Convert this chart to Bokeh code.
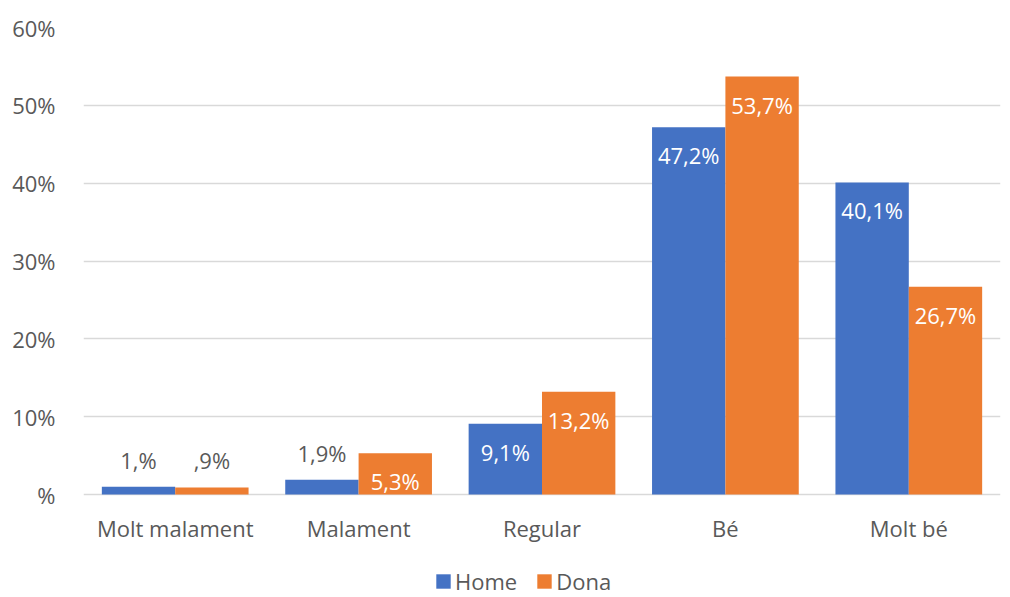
from bokeh.plotting import figure
from bokeh.models import ColumnDataSource, FactorRange, Legend, LegendItem, Range1d
from bokeh.transform import dodge
from bokeh.core.properties import value
from bokeh.embed import file_html
from bokeh.resources import INLINE

categories = ["Molt malament", "Malament", "Regular", "Bé", "Molt bé"]
home = [1.0, 1.9, 9.1, 47.2, 40.1]
dona = [0.9, 5.3, 13.2, 53.7, 26.7]
home_labels = ["1,%", "1,9%", "9,1%", "47,2%", "40,1%"]
dona_labels = [",9%", "5,3%", "13,2%", "53,7%", "26,7%"]
y_ticks = [0, 10, 20, 30, 40, 50, 60]
y_tick_labels = ["%", "10%", "20%", "30%", "40%", "50%", "60%"]
series_names = ["Home", "Dona"]

BLUE = "#4472C4"
ORANGE = "#ED7D31"
GREY = "#595959"
FONT = "Open Sans"

W, H = 1010, 597
LEFT, RIGHT, TOP, BASE = 83, 10, 27, 494   # frame edges; BASE = pixel row of 0%
y_max = y_ticks[-1]
px_per_unit = (BASE - TOP) / y_max
y_min = -(H - BASE) / px_per_unit          # extend frame to the bottom so legend/labels aren't clipped

p = figure(x_range=FactorRange(*categories), y_range=Range1d(y_min, y_max),
           width=W, height=H, output_backend="svg", toolbar_location=None,
           x_axis_location=None,
           min_border_left=LEFT, min_border_right=RIGHT, min_border_top=TOP, min_border_bottom=0)
p.outline_line_color = None
p.background_fill_color = "white"
p.x_range.range_padding = 0
p.x_range.group_padding = 0

renderers = []
for vals, labels, color, off in [(home, home_labels, BLUE, -0.2), (dona, dona_labels, ORANGE, 0.2)]:
    inside = [v >= 4 for v in vals]
    src = ColumnDataSource(dict(
        cat=categories, val=vals, lab=labels,
        yoff=[28 if i else -27 for i in inside],
        tcol=["white" if i else GREY for i in inside],
    ))
    r = p.vbar(x=dodge("cat", off, range=p.x_range), top="val", width=0.4, source=src,
               fill_color=color, line_color=None)
    renderers.append(r)
    p.text(x=dodge("cat", off, range=p.x_range), y="val", text="lab", source=src,
           text_align="center", text_baseline="middle", y_offset="yoff",
           text_color="tcol", text_font=value(FONT), text_font_size="22px")

# category labels (drawn as text under the 0% line)
cat_src = ColumnDataSource(dict(cat=categories, y=[0] * len(categories)))
p.text(x="cat", y="y", text="cat", source=cat_src, text_align="center", text_baseline="middle",
       y_offset=33, text_color=GREY, text_font=value(FONT), text_font_size="22px")

p.xgrid.grid_line_color = None
p.ygrid.grid_line_color = "#d9d9d9"
p.ygrid.grid_line_width = 1.5
p.yaxis.ticker = y_ticks
p.yaxis.major_label_overrides = {t: l for t, l in zip(y_ticks, y_tick_labels)}
p.yaxis.axis_line_color = None
p.yaxis.major_tick_line_color = None
p.yaxis.minor_tick_line_color = None
p.yaxis.major_label_text_font = FONT
p.yaxis.major_label_text_font_size = "22px"
p.yaxis.major_label_text_color = GREY
p.yaxis.major_label_standoff = 22

legend = Legend(items=[LegendItem(label=n, renderers=[r]) for n, r in zip(series_names, renderers)],
                orientation="horizontal", location=(351, 1),
                label_text_font=FONT, label_text_font_size="22px", label_text_color=GREY,
                glyph_width=18, glyph_height=18, spacing=18, label_standoff=3,
                border_line_color=None, background_fill_alpha=0, padding=0, margin=0)
p.add_layout(legend)

open("out.html", "w").write(file_html(p, INLINE))
